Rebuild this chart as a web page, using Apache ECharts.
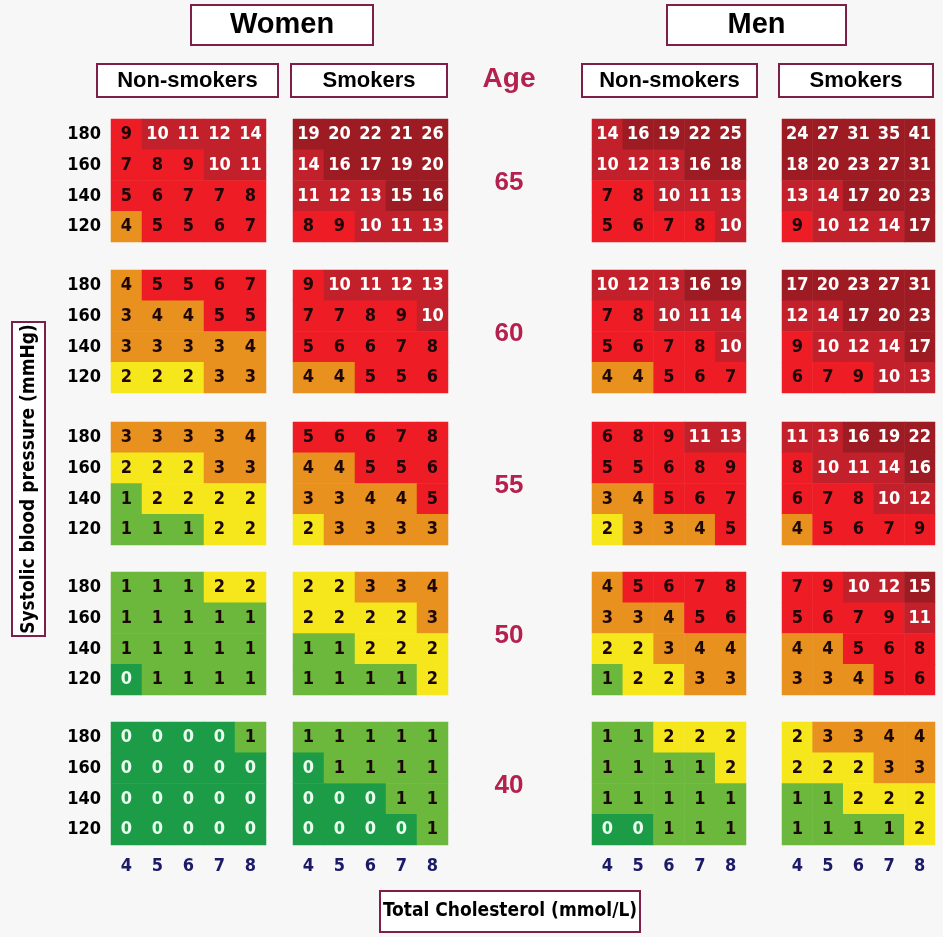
<!DOCTYPE html>
<html><head><meta charset="utf-8">
<script src="https://cdn.jsdelivr.net/npm/echarts@6/dist/echarts.min.js"></script>
<style>html,body{margin:0;padding:0;background:#f7f7f8;}#c{width:943px;height:937px;}</style>
</head><body><div id="c"></div>
<script>
// ---- data ----
const cholesterol = ['4', '5', '6', '7', '8'];
const systolic = ['120', '140', '160', '180'];
const ages = ['65', '60', '55', '50', '40'];
const groupNames = ['Non-smokers', 'Smokers', 'Non-smokers', 'Smokers'];
// each: per age (65,60,55,50,40), rows from SBP 180 down to 120, columns cholesterol 4..8
const womenNonSmokers = [
  [[9,10,11,12,14],[7,8,9,10,11],[5,6,7,7,8],[4,5,5,6,7]],
  [[4,5,5,6,7],[3,4,4,5,5],[3,3,3,3,4],[2,2,2,3,3]],
  [[3,3,3,3,4],[2,2,2,3,3],[1,2,2,2,2],[1,1,1,2,2]],
  [[1,1,1,2,2],[1,1,1,1,1],[1,1,1,1,1],[0,1,1,1,1]],
  [[0,0,0,0,1],[0,0,0,0,0],[0,0,0,0,0],[0,0,0,0,0]]
];
const womenSmokers = [
  [[19,20,22,21,26],[14,16,17,19,20],[11,12,13,15,16],[8,9,10,11,13]],
  [[9,10,11,12,13],[7,7,8,9,10],[5,6,6,7,8],[4,4,5,5,6]],
  [[5,6,6,7,8],[4,4,5,5,6],[3,3,4,4,5],[2,3,3,3,3]],
  [[2,2,3,3,4],[2,2,2,2,3],[1,1,2,2,2],[1,1,1,1,2]],
  [[1,1,1,1,1],[0,1,1,1,1],[0,0,0,1,1],[0,0,0,0,1]]
];
const menNonSmokers = [
  [[14,16,19,22,25],[10,12,13,16,18],[7,8,10,11,13],[5,6,7,8,10]],
  [[10,12,13,16,19],[7,8,10,11,14],[5,6,7,8,10],[4,4,5,6,7]],
  [[6,8,9,11,13],[5,5,6,8,9],[3,4,5,6,7],[2,3,3,4,5]],
  [[4,5,6,7,8],[3,3,4,5,6],[2,2,3,4,4],[1,2,2,3,3]],
  [[1,1,2,2,2],[1,1,1,1,2],[1,1,1,1,1],[0,0,1,1,1]]
];
const menSmokers = [
  [[24,27,31,35,41],[18,20,23,27,31],[13,14,17,20,23],[9,10,12,14,17]],
  [[17,20,23,27,31],[12,14,17,20,23],[9,10,12,14,17],[6,7,9,10,13]],
  [[11,13,16,19,22],[8,10,11,14,16],[6,7,8,10,12],[4,5,6,7,9]],
  [[7,9,10,12,15],[5,6,7,9,11],[4,4,5,6,8],[3,3,4,5,6]],
  [[2,3,3,4,4],[2,2,2,3,3],[1,1,2,2,2],[1,1,1,1,2]]
];
const groups = [womenNonSmokers, womenSmokers, menNonSmokers, menSmokers];

// ---- layout ----
const colLeft = [111, 293, 592, 782];
const colWidth = [155, 155, 154, 153];
const rowTop = [119, 270, 422, 572, 722];
const rowHeight = 123;
const NARROW = "'Liberation Sans Narrow','DejaVu Sans Condensed',sans-serif";
const SANS = "'Liberation Sans',Arial,sans-serif";

const grids = [], xAxes = [], yAxes = [], series = [];
groups.forEach((grp, g) => {
  grp.forEach((mat, a) => {
    const idx = grids.length;
    grids.push({ left: colLeft[g], top: rowTop[a], width: colWidth[g], height: rowHeight });
    xAxes.push({
      type: 'category', gridIndex: idx, data: cholesterol,
      axisLine: { show: false }, axisTick: { show: false }, splitLine: { show: false },
      axisLabel: { show: a === 4, color: '#1c1a66', fontWeight: 'bold', fontSize: 18, fontFamily: NARROW, margin: 12 }
    });
    yAxes.push({
      type: 'category', gridIndex: idx, data: systolic,
      axisLine: { show: false }, axisTick: { show: false }, splitLine: { show: false },
      axisLabel: { show: g === 0, color: '#000', fontWeight: 'bold', fontSize: 18, fontFamily: NARROW, margin: 10 }
    });
    const data = [];
    mat.forEach((row, r) => {
      row.forEach((v, c) => {
        const tc = v === 0 ? '#eaffef' : (v >= 10 ? '#ffffff' : '#1c0606');
        data.push({ value: [c, 3 - r, v], label: { color: tc } });
      });
    });
    series.push({
      type: 'heatmap', xAxisIndex: idx, yAxisIndex: idx, data,
      itemStyle: { borderWidth: 0 },
      label: { show: true, formatter: p => String(p.value[2]), fontWeight: 'bold', fontSize: 18, fontFamily: NARROW },
      emphasis: { disabled: true }
    });
  });
});

function box(x, y, w, h, text, font, color) {
  return [
    { type: 'rect', shape: { x, y, width: w, height: h }, style: { fill: '#ffffff', stroke: '#7d1f48', lineWidth: 2 }, z: 10 },
    { type: 'text', x: x + w / 2, y: y + h / 2, style: { text, font, fill: color || '#000', align: 'center', verticalAlign: 'middle' }, z: 11 }
  ];
}

const graphics = [].concat(
  box(191, 5, 182, 40, 'Women', 'bold 29px ' + SANS),
  box(667, 5, 179, 40, 'Men', 'bold 29px ' + SANS),
  box(97, 64, 181, 33, 'Non-smokers', 'bold 22px ' + SANS),
  box(291, 64, 156, 33, 'Smokers', 'bold 22px ' + SANS),
  box(582, 64, 175, 33, 'Non-smokers', 'bold 22px ' + SANS),
  box(779, 64, 154, 33, 'Smokers', 'bold 22px ' + SANS),
  box(380, 891, 260, 41, 'Total Cholesterol (mmol/L)', 'bold 19px ' + NARROW),
  [
    { type: 'rect', shape: { x: 12, y: 322, width: 33, height: 314 }, style: { fill: '#ffffff', stroke: '#7d1f48', lineWidth: 2 }, z: 10 },
    { type: 'text', x: 29, y: 479, rotation: Math.PI / 2, style: { text: 'Systolic blood pressure (mmHg)', font: 'bold 19px ' + NARROW, fill: '#000', align: 'center', verticalAlign: 'middle' }, z: 11 },
    { type: 'text', x: 509, y: 79, style: { text: 'Age', font: 'bold 28px ' + SANS, fill: '#b5214f', align: 'center', verticalAlign: 'middle' }, z: 11 }
  ],
  ages.map((ag, a) => ({ type: 'text', x: 509, y: rowTop[a] + rowHeight / 2 + 2, style: { text: ag, font: 'bold 26px ' + SANS, fill: '#b5214f', align: 'center', verticalAlign: 'middle' }, z: 11 }))
);

const chart = echarts.init(document.getElementById('c'));
chart.setOption({
  backgroundColor: '#f7f7f8',
  animation: false,
  grid: grids,
  xAxis: xAxes,
  yAxis: yAxes,
  visualMap: {
    type: 'piecewise', show: false, dimension: 2,
    pieces: [
      { value: 0, color: '#1d9c48' },
      { value: 1, color: '#6bb83c' },
      { value: 2, color: '#f6e71d' },
      { min: 3, max: 4, color: '#e8911e' },
      { min: 5, max: 9, color: '#ee1d25' },
      { min: 10, max: 14, color: '#c2202b' },
      { min: 15, max: 100, color: '#9d1b22' }
    ]
  },
  series,
  graphic: graphics
});
</script></body></html>
